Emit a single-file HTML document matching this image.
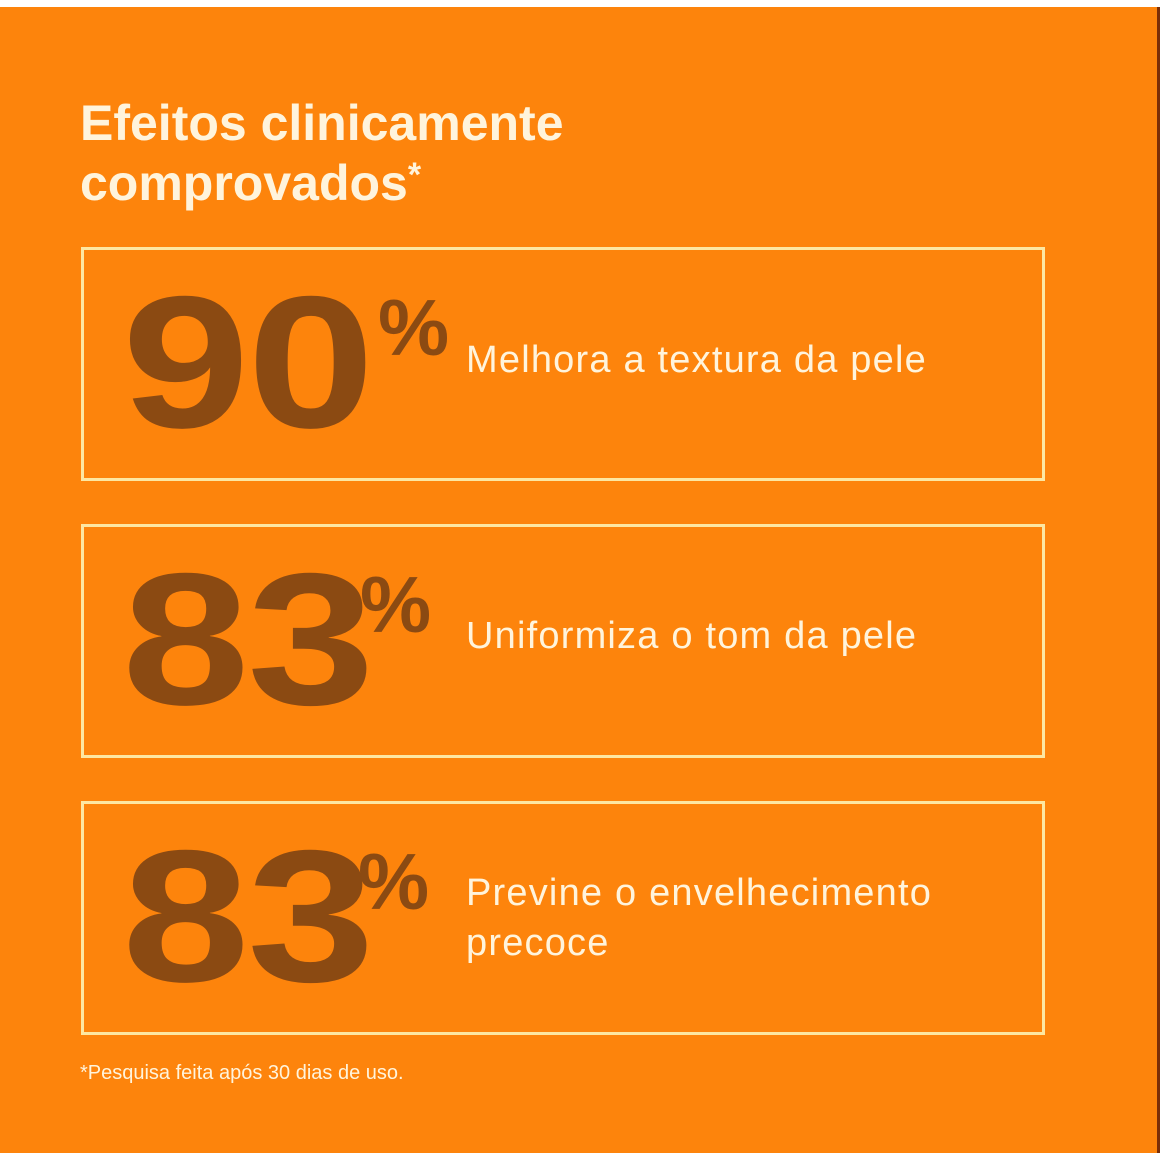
<!DOCTYPE html>
<html><head><meta charset="utf-8"><style>
body{margin:0;width:1160px;height:1160px;background:#fff;position:relative;overflow:hidden;font-family:"Liberation Sans",sans-serif}
.bg{position:absolute;left:0;top:7px;width:1157px;height:1146px;background:#fd840c;border-right:3px solid #7a2e08}
.t{position:absolute;color:#fff4dc;font-weight:bold;white-space:nowrap}
.box{position:absolute;left:81px;width:958px;height:228px;border:3px solid #fde7a2}
.num{position:absolute;color:#8b4a12;font-weight:bold;font-size:188px;line-height:1;transform:scaleX(1.22);transform-origin:left top;letter-spacing:-2px}
.pc{position:absolute;color:#8b4a12;font-weight:bold;font-size:80px;line-height:1}
.lab{position:absolute;color:#fff4dc;font-size:38px;line-height:50px;white-space:nowrap;letter-spacing:1.2px}
</style></head><body>
<div class="bg"></div>
<div class="t" style="left:80px;top:97px;font-size:50px;line-height:52px">Efeitos clinicamente<br>comprovados<span style="font-size:34px;vertical-align:14px">*</span></div>
<div class="box" style="top:247px"></div>
<div class="box" style="top:524px"></div>
<div class="box" style="top:801px"></div>
<div class="num" style="left:122px;top:268px">90</div><div class="pc" style="left:378px;top:288px">%</div>
<div class="lab" style="left:466px;top:335px">Melhora a textura da pele</div>
<div class="num" style="left:122px;top:545px">83</div><div class="pc" style="left:360px;top:565px">%</div>
<div class="lab" style="left:466px;top:611px">Uniformiza o tom da pele</div>
<div class="num" style="left:122px;top:822px">83</div><div class="pc" style="left:358px;top:842px">%</div>
<div class="lab" style="left:466px;top:868px">Previne o envelhecimento<br>precoce</div>
<div style="position:absolute;left:80px;top:1062px;color:#fff4dc;font-size:20px">*Pesquisa feita após 30 dias de uso.</div>
</body></html>
